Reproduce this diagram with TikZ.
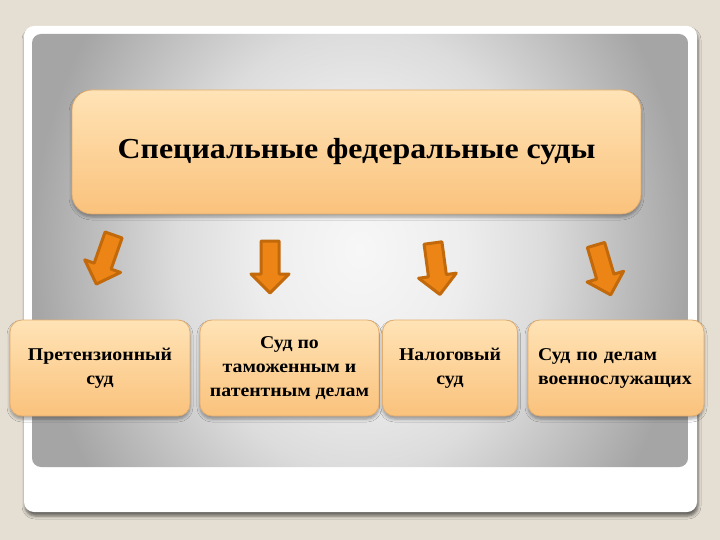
\documentclass[tikz,border=0pt]{standalone}
\usepackage{fontspec}
\setmainfont{Liberation Serif}[FakeStretch=1.1]
\usetikzlibrary{shadows.blur}
\definecolor{bgc}{HTML}{E4DED3}
\definecolor{pc0}{HTML}{F7F7F7}
\definecolor{pc1}{HTML}{EDEDED}
\definecolor{pc2}{HTML}{DCDCDC}
\definecolor{pc3}{HTML}{A5A5A5}
\definecolor{boxtop}{HTML}{FFE3B6}
\definecolor{boxbot}{HTML}{FAC27C}
\definecolor{boxline}{HTML}{E2AE70}
\definecolor{arrfill}{HTML}{EC8515}
\definecolor{arrline}{HTML}{C2690C}
\pgfdeclareradialshading{panelshade}{\pgfpoint{0bp}{0bp}}{color(0bp)=(pc0); color(8bp)=(pc1); color(14bp)=(pc2); color(25bp)=(pc3); color(50bp)=(pc3)}
\tikzset{
  boxbase/.style={draw=boxline, line width=0.8pt, top color=boxtop, bottom color=boxbot,
    font=\bfseries, text=black, inner sep=10pt,
    blur shadow={shadow xshift=0pt, shadow yshift=-3pt, shadow blur radius=3pt, shadow opacity=35}},
  topbox/.style={boxbase, rounded corners=20pt, minimum width=569pt, minimum height=124pt,
    font=\bfseries\fontsize{29}{34}\selectfont},
  lowbox/.style={boxbase, rounded corners=12pt, minimum height=96pt, align=center,
    font=\bfseries\fontsize{18}{24}\selectfont},
  arrowshape/.style={fill=arrfill, draw=arrline, line width=3pt, line join=round},
  downarrow/.pic={\path[arrowshape] (-9,0) -- (-9,33) -- (-19,33) -- (0,52) -- (19,33) -- (9,33) -- (9,0) -- cycle;}
}
\begin{document}
\begin{tikzpicture}[x=1pt,y=-1pt]
\useasboundingbox (0,0) rectangle (720,540);
\fill[bgc] (0,0) rectangle (720,540);
\fill[white, rounded corners=10pt,
  blur shadow={shadow xshift=1pt, shadow yshift=-4pt, shadow blur radius=3pt, shadow opacity=55}]
  (24,26) rectangle (697,512);
\begin{scope}
  \clip[rounded corners=9pt] (32,34) rectangle (688,467);
  \shade[shading=panelshade] (32,-143) rectangle (688,643);
\end{scope}
\node[topbox] (top) at (356.5,152) {Специальные федеральные суды};
\node[lowbox, minimum width=180pt] (b1) at (100,368) {Претензионный\\суд};
\node[lowbox, minimum width=174pt] (b2) at (289.5,368) {Суд по\\таможенным и\\патентным делам};
\node[lowbox, minimum width=135pt] (b3) at (450,368) {Налоговый\\суд};
\node[lowbox, minimum width=176pt, text width=156pt, align=left] (b4) at (616,368) {Суд по делам\\военнослужащих};
\pic[rotate=-19.4] at (113.6,235) {downarrow};
\pic at (270,241) {downarrow};
\pic[rotate=7.7] at (433,243) {downarrow};
\pic[rotate=16.4] at (596,245) {downarrow};
\end{tikzpicture}
\end{document}
